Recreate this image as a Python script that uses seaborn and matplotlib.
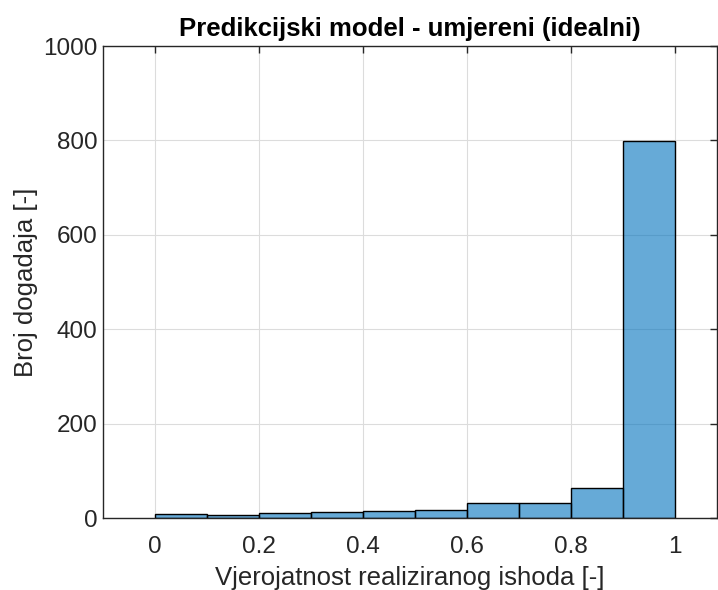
import matplotlib
matplotlib.use("Agg")
import matplotlib.pyplot as plt
import seaborn as sns
import numpy as np

# histogram bins and counts
bin_edges = [0.0, 0.1, 0.2, 0.3, 0.4, 0.5, 0.6, 0.7, 0.8, 0.9, 1.0]
counts = [8, 6, 11, 13, 15, 16, 31, 32, 63, 798]
x_ticks = [0, 0.2, 0.4, 0.6, 0.8, 1]
y_ticks = [0, 200, 400, 600, 800, 1000]

centers = [(a + b) / 2 for a, b in zip(bin_edges[:-1], bin_edges[1:])]

sns.set_style("white")
plt.rcParams['font.family'] = ['Liberation Sans', 'DejaVu Sans']

fig = plt.figure(figsize=(7.18, 5.9), dpi=100)
ax = fig.add_axes([0.1435, 0.122, 0.855, 0.8])

sns.histplot(x=centers, weights=counts, bins=bin_edges, ax=ax,
             color='#0072BD', alpha=0.6, edgecolor='black', linewidth=1.0)

ax.set_xlim(-0.1, 1.08)
ax.set_ylim(0, 1000)
ax.set_xticks(x_ticks)
ax.set_xticklabels(["0", "0.2", "0.4", "0.6", "0.8", "1"])
ax.set_yticks(y_ticks)
ax.grid(True, color='#dcdcdc', linewidth=0.8)
ax.set_axisbelow(True)
ax.tick_params(direction='in', length=5, top=True, right=True,
               labelsize=17.5, colors='#262626', width=1)
ax.tick_params(axis='x', pad=13)
ax.tick_params(axis='y', pad=4)
for s in ax.spines.values():
    s.set_color('#262626')
    s.set_linewidth(1.0)

ax.set_title("Predikcijski model - umjereni (idealni)", fontsize=18.5,
             fontweight='bold', pad=7, color='black')
ax.set_xlabel("Vjerojatnost realiziranog ishoda [-]", fontsize=18.5,
              color='#262626', labelpad=6)
ax.set_ylabel("Broj dogadaja [-]", fontsize=18.5, color='#262626', labelpad=4)

fig.savefig("out.png", dpi=100)
